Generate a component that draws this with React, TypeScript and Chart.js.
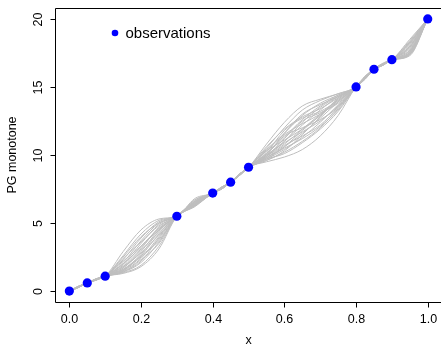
import React, { useEffect, useRef } from "react";
import { Chart, registerables } from "chart.js";

Chart.register(...registerables);

// Observations
const obsX = [0, 0.05, 0.1, 0.3, 0.4, 0.45, 0.5, 0.8, 0.85, 0.9, 1.0];
const obsY = [0, 0.6, 1.1, 5.5, 7.2, 8.0, 9.1, 15.0, 16.3, 17.0, 20.0];

// x positions of the sample-path values between the observations
const knotX = [0.025, 0.075, 0.15, 0.2, 0.25, 0.35, 0.425, 0.475, 0.55, 0.6, 0.65, 0.7, 0.75, 0.825, 0.875, 0.95];

// Monotone GP sample paths (values at knotX)
const sampleRows = [
  [0.32, 0.88, 2.9, 4.5, 5.3, 6.8, 7.65, 8.6, 10.8, 12.4, 13.6, 14.1, 14.5, 15.7, 16.7, 18.5],
  [0.28, 0.82, 2.6, 4.2, 5.2, 6.7, 7.6, 8.55, 10.5, 12.0, 13.3, 14.0, 14.5, 15.65, 16.65, 18.4],
  [0.35, 0.9, 2.3, 3.9, 5.1, 6.6, 7.55, 8.5, 10.3, 11.6, 12.9, 13.8, 14.4, 15.6, 16.7, 18.2],
  [0.3, 0.85, 2.0, 3.5, 4.9, 6.5, 7.6, 8.6, 10.1, 11.3, 12.6, 13.6, 14.4, 15.75, 16.6, 18.0],
  [0.25, 0.8, 1.8, 3.1, 4.7, 6.4, 7.5, 8.5, 10.0, 11.0, 12.2, 13.3, 14.3, 15.6, 16.7, 17.8],
  [0.33, 0.87, 1.6, 2.7, 4.4, 6.3, 7.55, 8.55, 9.9, 10.8, 11.9, 13.0, 14.1, 15.7, 16.65, 17.6],
  [0.36, 0.92, 1.5, 2.4, 4.0, 6.25, 7.6, 8.6, 9.8, 10.6, 11.6, 12.7, 13.9, 15.55, 16.6, 17.45],
  [0.27, 0.83, 1.4, 2.1, 3.6, 6.2, 7.5, 8.5, 9.7, 10.4, 11.3, 12.4, 13.7, 15.6, 16.75, 17.35],
  [0.3, 0.86, 1.3, 1.8, 3.1, 6.3, 7.65, 8.6, 9.6, 10.2, 11.0, 12.0, 13.4, 15.8, 16.7, 17.3],
  [0.34, 0.89, 1.35, 1.9, 3.3, 6.45, 7.55, 8.5, 9.5, 9.85, 10.4, 11.4, 12.9, 15.65, 16.6, 17.5],
  [0.29, 0.84, 2.4, 3.6, 4.8, 6.7, 7.6, 8.55, 10.2, 11.8, 12.7, 13.2, 14.0, 15.6, 16.7, 18.3],
  [0.31, 0.86, 1.9, 3.3, 4.6, 6.55, 7.55, 8.6, 10.4, 11.5, 12.3, 13.0, 13.9, 15.7, 16.65, 17.9],
  [0.26, 0.81, 1.7, 2.9, 4.5, 6.5, 7.5, 8.5, 9.9, 11.2, 12.5, 13.1, 13.8, 15.65, 16.7, 18.1],
  [0.33, 0.88, 2.2, 3.3, 4.5, 6.35, 7.6, 8.55, 10.0, 10.9, 11.7, 12.5, 13.6, 15.6, 16.6, 17.7],
  [0.35, 0.91, 1.5, 2.6, 4.2, 6.4, 7.55, 8.6, 9.7, 10.6, 11.8, 12.9, 14.0, 15.75, 16.7, 17.4],
  [0.28, 0.83, 1.6, 2.5, 3.8, 6.3, 7.5, 8.5, 9.8, 10.5, 11.2, 12.1, 13.3, 15.6, 16.65, 17.6],
  [0.32, 0.87, 2.1, 3.7, 5.0, 6.6, 7.65, 8.55, 10.1, 11.4, 12.0, 12.6, 13.5, 15.7, 16.7, 18.0],
  [0.3, 0.85, 1.8, 2.8, 4.1, 6.45, 7.55, 8.6, 9.6, 10.3, 11.5, 12.8, 14.2, 15.65, 16.6, 17.5],
  [0.27, 0.82, 1.45, 2.2, 3.9, 6.35, 7.6, 8.5, 10.3, 11.1, 11.9, 12.9, 14.1, 15.6, 16.7, 17.7],
  [0.34, 0.9, 2.5, 4.0, 5.0, 6.6, 7.5, 8.55, 9.9, 11.0, 12.4, 13.5, 14.3, 15.7, 16.65, 18.2],
  [0.31, 0.86, 1.7, 3.0, 4.3, 6.5, 7.6, 8.6, 10.6, 11.9, 12.8, 13.4, 14.2, 15.6, 16.7, 17.9],
  [0.29, 0.84, 1.4, 2.3, 3.5, 6.25, 7.55, 8.5, 9.7, 10.1, 10.9, 11.9, 13.2, 15.75, 16.6, 17.4],
  [0.33, 0.88, 2.0, 3.2, 4.6, 6.55, 7.5, 8.55, 10.0, 11.6, 13.0, 13.7, 14.3, 15.65, 16.7, 18.3],
  [0.26, 0.81, 1.55, 2.6, 3.7, 6.4, 7.6, 8.6, 9.8, 10.7, 11.4, 12.2, 13.5, 15.6, 16.65, 17.55],
];

const xTicks = [0, 0.2, 0.4, 0.6, 0.8, 1.0];
const xTickLabels = ["0.0", "0.2", "0.4", "0.6", "0.8", "1.0"];
const yTicks = [0, 5, 10, 15, 20];
const yTickLabels = ["0", "5", "10", "15", "20"];

const xTitle = "x";
const yTitle = "PG monotone";
const legendLabel = "observations";

const FONT = '"Liberation Sans", Arial, Helvetica, sans-serif';

function buildPath(row: number[]) {
  const pts: { x: number; y: number }[] = [];
  obsX.forEach((x, i) => pts.push({ x, y: obsY[i] }));
  knotX.forEach((x, i) => pts.push({ x, y: row[i] }));
  pts.sort((a, b) => a.x - b.x);
  return pts;
}

const axesPlugin = {
  id: "rAxes",
  afterDraw(chart: any) {
    const ctx = chart.ctx as CanvasRenderingContext2D;
    const area = chart.chartArea;
    const xs = chart.scales.x;
    const ys = chart.scales.y;
    ctx.save();
    ctx.strokeStyle = "#000";
    ctx.lineWidth = 1;
    // box
    ctx.beginPath();
    ctx.rect(Math.round(area.left) + 0.5, Math.round(area.top) + 0.5, area.right - area.left + 2, Math.round(area.bottom - area.top));
    ctx.stroke();
    const bottom = Math.round(area.bottom) + 0.5;
    const left = Math.round(area.left) + 0.5;
    ctx.fillStyle = "#000";
    ctx.font = `12.5px ${FONT}`;
    ctx.textAlign = "center";
    ctx.textBaseline = "middle";
    // x ticks
    xTicks.forEach((v, i) => {
      const px = Math.round(xs.getPixelForValue(v)) + 0.5;
      ctx.beginPath();
      ctx.moveTo(px, bottom);
      ctx.lineTo(px, bottom + 5);
      ctx.stroke();
      ctx.fillText(xTickLabels[i], px, bottom + 17);
    });
    // y ticks
    yTicks.forEach((v, i) => {
      const py = Math.round(ys.getPixelForValue(v)) + 0.5;
      ctx.beginPath();
      ctx.moveTo(left, py);
      ctx.lineTo(left - 5, py);
      ctx.stroke();
      ctx.save();
      ctx.translate(left - 17, py);
      ctx.rotate(-Math.PI / 2);
      ctx.fillText(yTickLabels[i], 0, 0);
      ctx.restore();
    });
    // titles
    ctx.fillText(xTitle, (area.left + area.right + 1) / 2, 341);
    ctx.save();
    ctx.translate(13, (area.top + area.bottom) / 2);
    ctx.rotate(-Math.PI / 2);
    ctx.fillText(yTitle, 0, 0);
    ctx.restore();
    // legend
    ctx.fillStyle = "#0000ff";
    ctx.beginPath();
    ctx.arc(115, 33, 3.3, 0, Math.PI * 2);
    ctx.fill();
    ctx.fillStyle = "#000";
    ctx.font = `15px ${FONT}`;
    ctx.textAlign = "left";
    ctx.fillText(legendLabel, 125.5, 33.5);
    ctx.restore();
  },
};

export default function App() {
  const ref = useRef<HTMLCanvasElement | null>(null);
  useEffect(() => {
    document.body.style.margin = "0";
    const canvas = ref.current!;
    const datasets: any[] = [
      {
        label: legendLabel,
        data: obsX.map((x, i) => ({ x, y: obsY[i] })),
        showLine: false,
        pointRadius: 4.6,
        pointBackgroundColor: "#0000ff",
        pointBorderWidth: 0,
        pointBorderColor: "#0000ff",
      },
      ...sampleRows.map((row, k) => ({
        label: `path ${k + 1}`,
        data: buildPath(row),
        showLine: true,
        borderColor: "#bebebe",
        borderWidth: 1,
        pointRadius: 0,
        cubicInterpolationMode: "monotone",
        fill: false,
      })),
    ];
    const chart = new Chart(canvas, {
      type: "scatter",
      data: { datasets },
      options: {
        animation: false,
        responsive: false,
        devicePixelRatio: 1,
        layout: { autoPadding: false, padding: { left: 55, top: 8, right: 0, bottom: 45 } },
        plugins: { legend: { display: false }, tooltip: { enabled: false } },
        events: [],
        scales: {
          x: { type: "linear", min: -0.04, max: 1.037, display: false },
          y: { type: "linear", min: -0.8, max: 20.8, display: false },
        },
      },
      plugins: [axesPlugin],
    });
    return () => chart.destroy();
  }, []);
  return (
    <div style={{ position: "fixed", left: 0, top: 0, width: 441, height: 347, background: "#fff" }}>
      <canvas ref={ref} width={441} height={347} style={{ width: 441, height: 347 }} />
    </div>
  );
}
